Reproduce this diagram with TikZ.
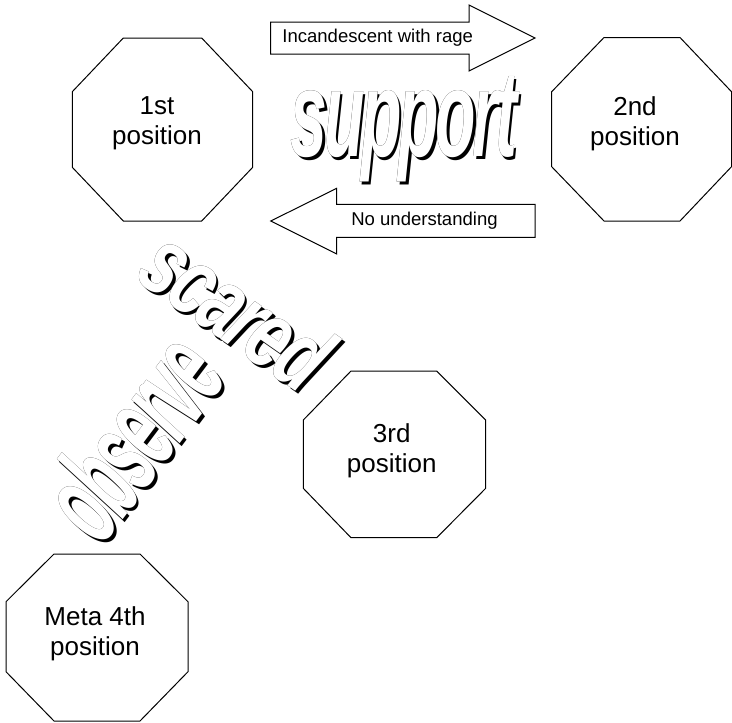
\documentclass[tikz,border=0pt]{standalone}
\usepackage{fontspec}
\setmainfont{Liberation Sans}
\newfontfamily\artfont{Liberation Sans}[LetterSpace=-5]
\usepackage{pdfrender}

\tikzset{every picture/.style={line width=0.75pt}}
\tikzset{
  postext/.style={font=\fontsize{19.5}{22.5}\selectfont, align=center},
  arrowtext/.style={font=\fontsize{13.9}{16}\selectfont},
  wordart/.style={font=\fontsize{20}{24}\artfont\bfseries\itshape, inner sep=0pt, anchor=base},
}
% outlined white letters, and their black shadow
\newcommand{\artfront}[1]{\rlap{\textpdfrender{TextRenderingMode=FillStroke,LineWidth=1.3}{#1}}\textcolor{white}{\textpdfrender{TextRenderingMode=FillStroke,LineWidth=0.7}{#1}}}
\newcommand{\artshadow}[1]{\textpdfrender{TextRenderingMode=FillStroke,LineWidth=1.35}{#1}}

\begin{document}
\begin{tikzpicture}[x=0.75pt,y=0.75pt,yscale=-1,xscale=1]
	\useasboundingbox (0,0) rectangle (732,722);

	%Shape: Octagon [1st]
	\draw   (123.3,38) -- (201.7,38) -- (252.7,91.7) -- (252.7,167.3) -- (201.7,221) -- (123.3,221) -- (72.3,167.3) -- (72.3,91.7) -- cycle ;
	%Shape: Octagon [2nd]
	\draw   (604,37.5) -- (680,37.5) -- (731.5,91.7) -- (731.5,166.7) -- (680,221) -- (604,221) -- (551.7,166.7) -- (551.7,91.7) -- cycle ;
	%Shape: Octagon [3rd]
	\draw   (351,371) -- (436.7,371) -- (485.7,420) -- (485.7,488.3) -- (436.7,537.7) -- (351,537.7) -- (303.3,488.3) -- (303.3,420) -- cycle ;
	%Shape: Octagon [meta]
	\draw   (54,554) -- (140,554) -- (188,601.7) -- (188,671.7) -- (140,721) -- (54,721) -- (6,671.7) -- (6,601.7) -- cycle ;
	%Shape: Right Arrow
	\draw   (270.7,22) -- (469,22) -- (469,5) -- (535,38) -- (469,71) -- (469,54) -- (270.7,54) -- cycle ;
	%Shape: Left Arrow
	\draw   (535,204.3) -- (336.7,204.3) -- (336.7,188.3) -- (270.7,221) -- (336.7,254) -- (336.7,237.3) -- (535,237.3) -- cycle ;

	% Text Node
	\draw (157,123.7) node (first) [postext] {1st\\position};
	% Text Node
	\draw (635,124.2) node (second) [postext] {2nd\\position};
	% Text Node
	\draw (391.7,451) node (third) [postext] {3rd\\position};
	% Text Node
	\draw (95,633.4) node (meta) [postext] {Meta 4th\\position};
	% Text Node
	\draw (377.7,37.7) node (rage) [arrowtext] {Incandescent with rage};
	% Text Node
	\draw (424.5,220.5) node (nounder) [arrowtext] {No understanding};

	% Word Art
	\draw (406.5,159) node (supportshade) [wordart, xscale=2.48, yscale=4.6] {\artshadow{support}};
	\draw (404,156) node (support) [wordart, xscale=2.48, yscale=4.6] {\artfront{support}};
	% Word Art
	\draw (220.5,340) node (scaredshade) [wordart, rotate=-35, xscale=2.59, yscale=3.6] {\artshadow{scared}};
	\draw (218,337) node (scared) [wordart, rotate=-35, xscale=2.59, yscale=3.6] {\artfront{scared}};
	% Word Art
	\draw (168.5,465) node (observeshade) [wordart, rotate=53, xscale=2.26, yscale=4.6] {\artshadow{observe}};
	\draw (166,462) node (observe) [wordart, rotate=53, xscale=2.26, yscale=4.6] {\artfront{observe}};

\end{tikzpicture}
\end{document}
